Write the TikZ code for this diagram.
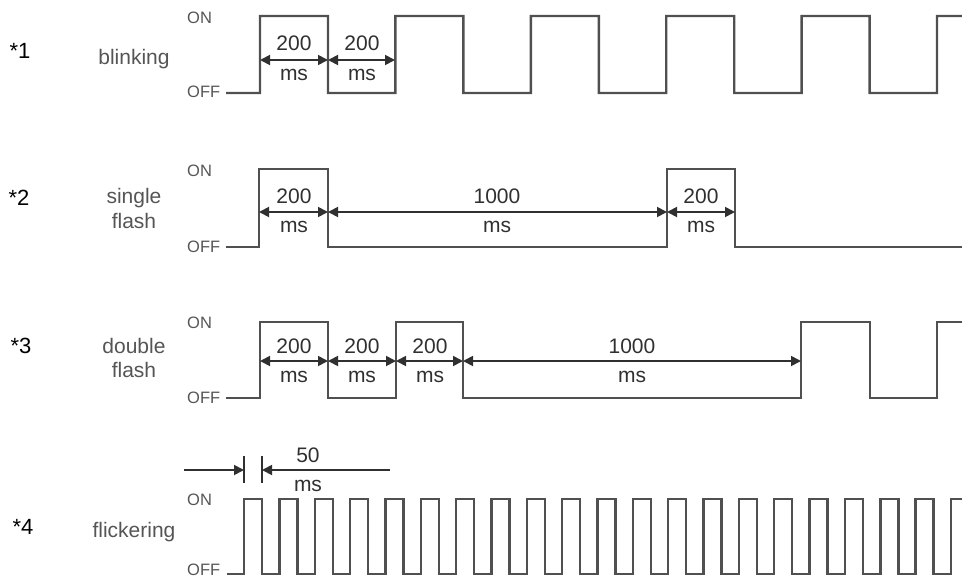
\documentclass[tikz,border=0pt]{standalone}
\usepackage{fontspec}
\setmainfont{Liberation Sans}
\usetikzlibrary{arrows.meta}
\definecolor{wavegray}{HTML}{505050}
\definecolor{dimgray}{HTML}{303030}
\definecolor{txtgray}{HTML}{555555}
\begin{document}
\begin{tikzpicture}[x=1pt,y=-1pt,
  wave/.style={wavegray,line width=2.4pt},
  dimline/.style={dimgray,line width=1.8pt},
  tip/.tip={Triangle[length=10pt,width=10pt]},
  num/.style={font=\fontsize{21}{25}\selectfont,text=dimgray,anchor=base,inner sep=0pt},
  onoff/.style={font=\fontsize{16.5}{20}\selectfont,text=txtgray,anchor=base west,inner sep=0pt},
  mode/.style={font=\fontsize{21}{25}\selectfont,text=txtgray,anchor=base,inner sep=0pt},
  star/.style={font=\fontsize{22}{26}\selectfont,anchor=base,inner sep=0pt}]
\useasboundingbox (0,0) rectangle (962,579);
% *1 blinking
\node[star](s1)at(20,58){*1};
\node[mode](m1)at(134,64){blinking};
\node[onoff](on1)at(187,23){ON};
\node[onoff](off1)at(187,97){OFF};
\draw[wave](226,93)--(260,93)
  \foreach \k in {0,...,4}{--({260+135.4*\k},16)--({328+135.4*\k},16)--({328+135.4*\k},93)--({395.4+135.4*\k},93)}
  --(937,16)--(962,16);%点滅
\draw[dimline,tip-tip](260,60)--(328,60);
\draw[dimline,tip-tip](328,60)--(395,60);
\node[num](a1)at(294,50){200};
\node[num](b1)at(294,80){ms};
\node[num](a2)at(362,50){200};
\node[num](b2)at(362,80){ms};
% *2 single flash
\node[star](s2)at(19,205){*2};
\node[mode](m2)at(134,203){single};
\node[mode](m2b)at(134,228){flash};
\node[onoff](on2)at(187,176){ON};
\node[onoff](off2)at(187,252){OFF};
\draw[wave](226,247)--(259,247)--(259,169)--(328,169)--(328,247)--(667,247)--(667,169)--(735,169)--(735,247)--(962,247);%単発
\draw[dimline,tip-tip](259,212)--(328,212);
\draw[dimline,tip-tip](328,212)--(667,212);
\draw[dimline,tip-tip](667,212)--(735,212);
\node[num](a3)at(294,203){200};
\node[num](b3)at(294,232){ms};
\node[num](a4)at(497,203){1000};
\node[num](b4)at(497,232){ms};
\node[num](a5)at(701,203){200};
\node[num](b5)at(701,232){ms};
% *3 double flash
\node[star](s3)at(21,353){*3};
\node[mode](m3)at(134,353){double};
\node[mode](m3b)at(134,377){flash};
\node[onoff](on3)at(187,328){ON};
\node[onoff](off3)at(187,403){OFF};
\draw[wave](226,398)--(260,398)--(260,322)--(328,322)--(328,398)--(396,398)--(396,322)--(463,322)--(463,398)
  --(801,398)--(801,322)--(870,322)--(870,398)--(937,398)--(937,322)--(962,322);%二連
\draw[dimline,tip-tip](260,361)--(328,361);
\draw[dimline,tip-tip](328,361)--(396,361);
\draw[dimline,tip-tip](396,361)--(463,361);
\draw[dimline,tip-tip](463,361)--(801,361);
\node[num](a6)at(294,353){200};
\node[num](b6)at(294,382){ms};
\node[num](a7)at(362,353){200};
\node[num](b7)at(362,382){ms};
\node[num](a8)at(430,353){200};
\node[num](b8)at(430,382){ms};
\node[num](a9)at(632,353){1000};
\node[num](b9)at(632,382){ms};
% *4 flickering
\node[star](s4)at(23,534){*4};
\node[mode](m4)at(134,537){flickering};
\node[onoff](on4)at(187,505){ON};
\node[onoff](off4)at(187,575){OFF};
\draw[wave](227,574)
  \foreach \k in {0,...,19}{--({244+35.35*\k},574)--({244+35.35*\k},499)--({262+35.35*\k},499)--({262+35.35*\k},574)}
  --(951,574)--(951,499)--(962,499);%ちらつき
\draw[dimline,-tip](184,470)--(244,470);
\draw[dimline,-tip](390,470)--(262,470);
\draw[dimline](244,456)--(244,483);
\draw[dimline](262,456)--(262,483);
\node[num](a10)at(308,462){50};
\node[num](b10)at(308,491){ms};
\end{tikzpicture}
\end{document}
